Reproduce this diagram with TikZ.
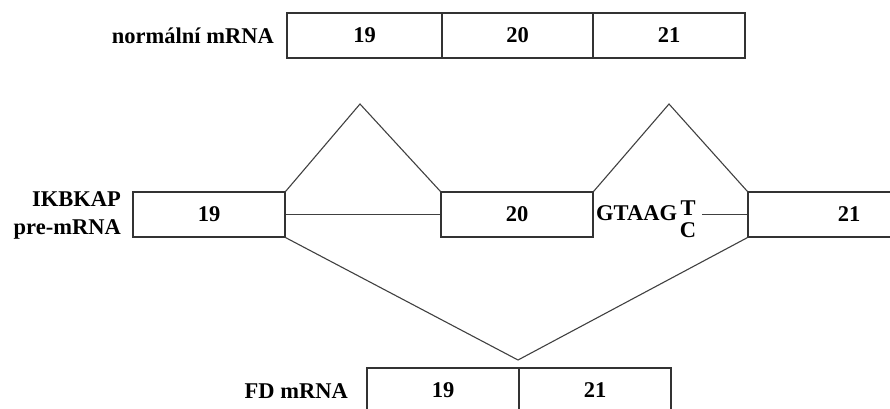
\documentclass[tikz,border=0pt]{standalone}
\usepackage{fontspec}
\setmainfont{Liberation Serif}
\begin{document}
\begin{tikzpicture}[x=1pt,y=-1pt,
  exon/.style={draw=black!80, line width=1.2pt, minimum height=45pt, inner sep=0pt, font=\fontsize{22.5}{26}\selectfont\bfseries},
  lbl/.style={inner sep=0pt, font=\fontsize{22.5}{28}\selectfont\bfseries},
  conn/.style={draw=black!75, line width=1.1pt}]
\useasboundingbox (0,0) rectangle (890,408);
\clip (0,0) rectangle (890,408);
% top
\node[exon, minimum width=155pt] (t19) at (364.5,35.5) {19};
\node[exon, minimum width=151pt] (t20) at (517.5,35.5) {20};
\node[exon, minimum width=152pt] (t21) at (669,35.5) {21};
\node[lbl, anchor=east] (tl) at (274,35.5) {normální mRNA};
% middle
\node[exon, minimum width=152pt] (m19) at (209,214.5) {19};
\node[exon, minimum width=152pt] (m20) at (517,214.5) {20};
\node[exon, minimum width=202pt] (m21) at (849,214.5) {21};
\node[lbl, anchor=east, align=right] (ml) at (121,215) {IKBKAP\\pre-mRNA};
\node[lbl, anchor=base west] (gt) at (596,220) {GTAAG};
\node[lbl] (tT) at (688,208) {T};
\node[lbl] (tC) at (688,230) {C};
\coordinate (p1) at (360,104);
\coordinate (p2) at (669,104);
\coordinate (v) at (518,360);
\coordinate (ie) at (702,214.5);
% bottom
\node[exon, minimum width=152pt] (b19) at (443,390.5) {19};
\node[exon, minimum width=152pt] (b21) at (595,390.5) {21};
\node[lbl, anchor=east] (bl) at (348,391) {FD mRNA};
% connectors
\draw[conn] (m19.north east) -- (p1) -- (m20.north west);
\draw[conn] (m20.north east) -- (p2) -- (m21.north west);
\draw[conn] (m19.east) -- (m20.west);
\draw[conn] (ie) -- (m21.west);
\draw[conn] (m19.south east) -- (v) -- (m21.south west);
\end{tikzpicture}
\end{document}
